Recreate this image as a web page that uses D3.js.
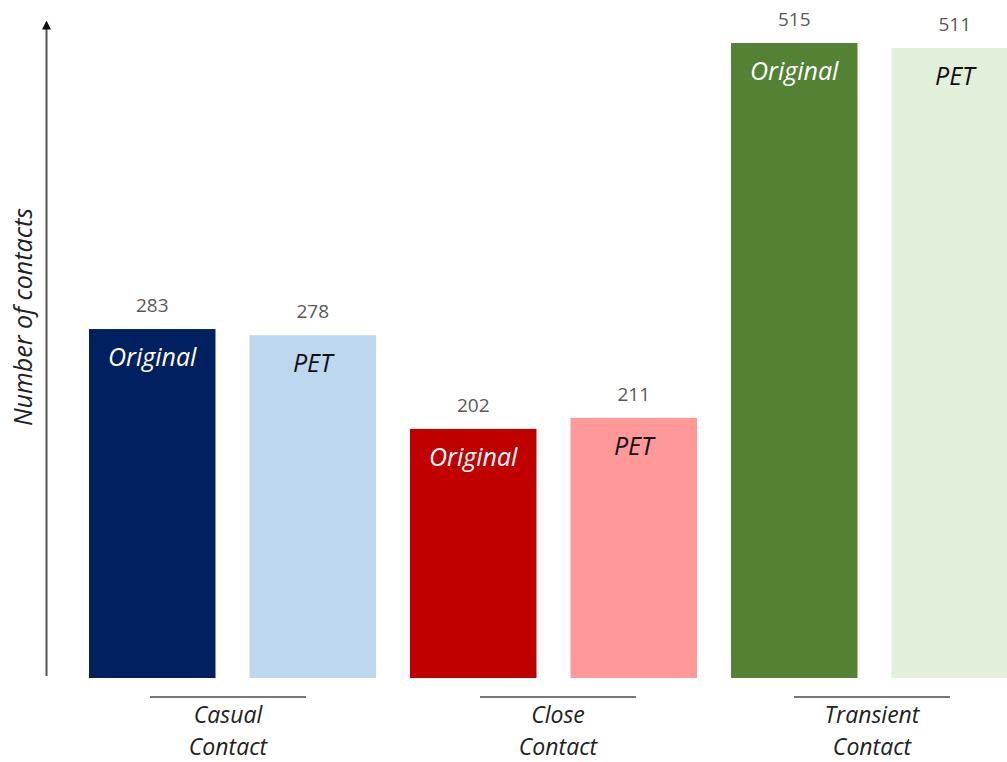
<!DOCTYPE html>
<html>
<head>
<meta charset="utf-8">
<script src="https://cdn.jsdelivr.net/npm/d3@7"></script>
<style>
  body { margin: 0; background: #fff; }
  svg { display: block; font-family: "Open Sans", sans-serif; }
</style>
</head>
<body>
<svg id="chart" width="1007" height="762"></svg>
<script>
// data
var categories = ["Casual Contact", "Close Contact", "Transient Contact"];
var series = ["Original", "PET"];
var originalValues = [283, 202, 515];
var petValues = [278, 211, 511];

// colours per category, [Original, PET]
var colores = [["#002060", "#BDD7EE"], ["#C00000", "#FF9999"], ["#548235", "#E2EFDA"]];
var colorTexto = ["#ffffff", "#111111"];

// group underline/label layout, offset from the group's first bar
var desplazamientoGrupo = [139, 148, 141];
var anchoLinea = 156;

var svg = d3.select("#chart");

var filas = [];
categories.forEach(function(c, i){
  filas.push({cat: i, serie: 0, valor: originalValues[i], key: c + "|" + series[0]});
  filas.push({cat: i, serie: 1, valor: petValues[i], key: c + "|" + series[1]});
});

var x = d3.scaleBand()
  .domain(filas.map(function(d){ return d.key; }))
  .range([89, 1018])
  .paddingInner(0.212)
  .paddingOuter(0);

var y = d3.scaleLinear().domain([0, 515]).range([678, 43]);

function centroGrupo(i){
  return x(categories[i] + "|" + series[0]) + desplazamientoGrupo[i];
}

// arrow
svg.append("defs").append("marker")
  .attr("id", "flecha")
  .attr("viewBox", "0 0 10 10")
  .attr("refX", 5).attr("refY", 5)
  .attr("markerWidth", 4.5).attr("markerHeight", 5)
  .attr("orient", "auto")
  .append("path")
  .attr("d", "M0,0 L10,5 L0,10 z")
  .style("fill", "#111");

svg.append("line")
  .attr("x1", 46.5).attr("x2", 46.5)
  .attr("y1", y(0) - 2).attr("y2", 25)
  .style("stroke", "#555").style("stroke-width", 2)
  .attr("marker-end", "url(#flecha)");

svg.append("text")
  .attr("transform", "translate(32," + 317 + ") rotate(-90)")
  .attr("text-anchor", "middle")
  .style("font-style", "italic")
  .style("font-size", "25px")
  .style("fill", "#222")
  .text("Number of contacts");

// bars
var barras = svg.selectAll(".barra").data(filas).enter().append("g").attr("class", "barra");

barras.append("rect")
  .attr("x", function(d){ return x(d.key); })
  .attr("y", function(d){ return y(d.valor); })
  .attr("width", x.bandwidth())
  .attr("height", function(d){ return y(0) - y(d.valor); })
  .style("fill", function(d){ return colores[d.cat][d.serie]; });

barras.append("text")
  .attr("x", function(d){ return x(d.key) + x.bandwidth() / 2; })
  .attr("y", function(d){ return y(d.valor) - 17; })
  .attr("text-anchor", "middle")
  .style("font-size", "19px")
  .style("fill", "#595959")
  .text(function(d){ return d.valor; });

barras.append("text")
  .attr("x", function(d){ return x(d.key) + x.bandwidth() / 2; })
  .attr("y", function(d){ return y(d.valor) + 37; })
  .attr("text-anchor", "middle")
  .style("font-size", "25px")
  .style("font-style", "italic")
  .style("fill", function(d){ return colorTexto[d.serie]; })
  .text(function(d){ return series[d.serie]; });

// category underlines and labels
var grupos = svg.selectAll(".grupo").data(categories).enter().append("g").attr("class", "grupo");

grupos.append("line")
  .attr("x1", function(d, i){ return centroGrupo(i) - anchoLinea / 2; })
  .attr("x2", function(d, i){ return centroGrupo(i) + anchoLinea / 2; })
  .attr("y1", 697).attr("y2", 697)
  .style("stroke", "#777").style("stroke-width", 2);

grupos.append("text")
  .attr("text-anchor", "middle")
  .style("font-size", "23px")
  .style("font-style", "italic")
  .style("fill", "#222")
  .selectAll("tspan")
  .data(function(d, i){ return d.split(" ").map(function(p){ return {p: p, i: i}; }); })
  .enter().append("tspan")
  .attr("x", function(d){ return centroGrupo(d.i); })
  .attr("y", function(d, j){ return 723 + j * 32; })
  .text(function(d){ return d.p; });
</script>
</body>
</html>
